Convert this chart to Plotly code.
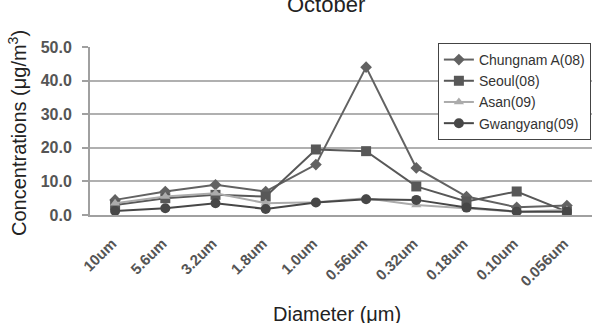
import plotly.graph_objects as go

categories = ["10um", "5.6um", "3.2um", "1.8um", "1.0um", "0.56um", "0.32um", "0.18um", "0.10um", "0.056um"]
chungnam = [4.5, 7.0, 9.0, 7.0, 15.0, 44.0, 14.0, 5.5, 2.3, 2.8]
seoul = [3.0, 5.0, 6.0, 5.5, 19.5, 19.0, 8.5, 4.0, 7.0, 1.0]
asan = [3.5, 5.5, 6.5, 3.5, 3.8, 5.0, 3.0, 2.0, 1.0, 1.5]
gwangyang = [1.2, 2.0, 3.5, 1.8, 3.7, 4.7, 4.5, 2.2, 1.0, 1.0]

series = [
    ("Chungnam A(08)", chungnam, "#626262", "diamond", 9),
    ("Seoul(08)", seoul, "#585858", "square", 10),
    ("Asan(09)", asan, "#ababab", "triangle-up", 9),
    ("Gwangyang(09)", gwangyang, "#474747", "circle", 10),
]

fig = go.Figure()
for name, vals, col, sym, size in series:
    fig.add_trace(go.Scatter(
        x=categories, y=vals, name=name, mode="lines+markers",
        line=dict(color=col, width=2),
        marker=dict(symbol=sym, size=size, color=col),
    ))

FONT = "Liberation Sans, Arial"
fig.update_layout(
    width=598, height=323,
    margin=dict(l=90, r=6, t=47, b=108),
    paper_bgcolor="white", plot_bgcolor="white",
    font=dict(family=FONT, color="#333"),
    showlegend=True,
    legend=dict(x=0.693, xanchor="left", y=1.024, yanchor="top",
                bordercolor="#444", borderwidth=1, bgcolor="white",
                font=dict(size=14, color="#333"), tracegroupgap=0),
    xaxis=dict(
        type="category", showgrid=False, showline=True, linecolor="#a0a0a0", linewidth=2,
        tickangle=-45, tickfont=dict(size=15, color="#555", family=FONT, weight="bold"),
        ticks="", range=[-0.5, 9.5], ticklabelstandoff=12, ticklabelshift=-3,
    ),
    yaxis=dict(
        range=[0, 50], dtick=10, tickformat=".1f",
        showgrid=True, gridcolor="#b0b0b0", gridwidth=2,
        showline=True, linecolor="#a0a0a0", linewidth=2,
        ticks="outside", ticklen=6, tickcolor="#a0a0a0", tickwidth=2,
        ticklabelstandoff=7,
        tickfont=dict(size=16, color="#555", family=FONT, weight="bold"),
        zeroline=False,
    ),
    annotations=[
        dict(text="October", xref="paper", yref="paper", x=0.470, y=(215 - 4) / 168,
             xanchor="center", yanchor="middle", showarrow=False,
             font=dict(size=22, color="#222", family=FONT)),
        dict(text="Diameter (μm)", xref="paper", yref="paper", x=0.492, y=(215 - 314) / 168,
             xanchor="center", yanchor="middle", showarrow=False,
             font=dict(size=20, color="#222", family=FONT)),
        dict(text="Concentrations (μg/m<sup>3</sup>)", xref="paper", yref="paper",
             x=(17 - 90) / 502, y=(215 - 133) / 168, textangle=-90,
             xanchor="center", yanchor="middle", showarrow=False,
             font=dict(size=20, color="#222", family=FONT)),
    ],
)

fig.write_html("out.html")
